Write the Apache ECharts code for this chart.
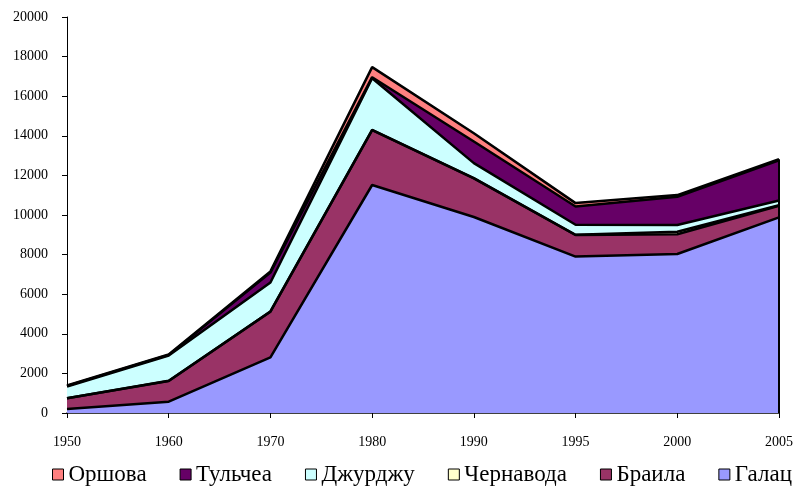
<!DOCTYPE html>
<html><head><meta charset="utf-8">
<script src="https://cdn.jsdelivr.net/npm/echarts@6/dist/echarts.min.js"></script>
<style>html,body{margin:0;padding:0;background:#fff}#c{width:797px;height:489px}</style>
</head><body><div id="c"></div>
<script>
const years = ['1950','1960','1970','1980','1990','1995','2000','2005'];
const galac = [200, 570, 2810, 11515, 9900, 7900, 8030, 9880];
const braila = [540, 1046, 2310, 2775, 1950, 1090, 995, 590];
const chernavoda = [10, 10, 10, 10, 10, 10, 130, 20];
const giurgiu = [590, 1280, 1460, 2610, 760, 505, 340, 240];
const tulcea = [30, 30, 500, 50, 1090, 925, 1425, 2030];
const orsova = [20, 20, 60, 510, 420, 170, 85, 60];
const yTicks = {min: 0, max: 20000, interval: 2000};

const names = ['Галац','Браила','Чернавода','Джурджу','Тульчеа','Оршова'];
const colors = ['#9999FF','#993366','#FFFFCC','#CCFFFF','#660066','#FF8080'];
const datas = [galac, braila, chernavoda, giurgiu, tulcea, orsova];
const lastIdx = years.length - 1;
const total = datas.reduce((s, d) => s + d[lastIdx], 0);
const font = "'Liberation Serif', 'Times New Roman', serif";

const series = names.map((n, i) => {
  const s = {
    name: n, type: 'line', stack: 'all', data: datas[i], symbol: 'none',
    lineStyle: {color: '#000', width: 2.5},
    itemStyle: {color: colors[i], borderColor: '#000', borderWidth: 1},
    areaStyle: {color: colors[i], opacity: 1},
    emphasis: {disabled: true}, animation: false
  };
  if (i === names.length - 1) {
    s.markLine = {
      silent: true, symbol: 'none', label: {show: false},
      lineStyle: {color: '#000', width: 2, type: 'solid'},
      data: [[{coord: [years[lastIdx], 0]}, {coord: [years[lastIdx], total]}]]
    };
  }
  return s;
});

const chart = echarts.init(document.getElementById('c'));
chart.setOption({
  animation: false,
  backgroundColor: '#fff',
  grid: {left: 67, right: 18, top: 17, bottom: 76},
  legend: {
    data: ['Оршова','Тульчеа','Джурджу','Чернавода','Браила','Галац'],
    bottom: -2, left: 47, icon: 'rect', itemWidth: 11, itemHeight: 11, itemGap: 33,
    textStyle: {fontFamily: font, fontSize: 23, color: '#000'},
    itemStyle: {borderColor: '#000', borderWidth: 1}
  },
  xAxis: {
    type: 'category', data: years, boundaryGap: false,
    axisLine: {lineStyle: {color: '#000', width: 1.5}},
    axisTick: {show: true, length: 5, lineStyle: {color: '#000'}},
    axisLabel: {fontFamily: font, fontSize: 14, color: '#000', margin: 22}
  },
  yAxis: {
    type: 'value', min: yTicks.min, max: yTicks.max, interval: yTicks.interval,
    axisLine: {show: true, lineStyle: {color: '#000', width: 1}},
    axisTick: {show: true, length: 5, lineStyle: {color: '#000'}},
    splitLine: {show: false},
    axisLabel: {fontFamily: font, fontSize: 14, color: '#000', margin: 19,
      formatter: v => String(v)}
  },
  series: series
});
</script></body></html>
